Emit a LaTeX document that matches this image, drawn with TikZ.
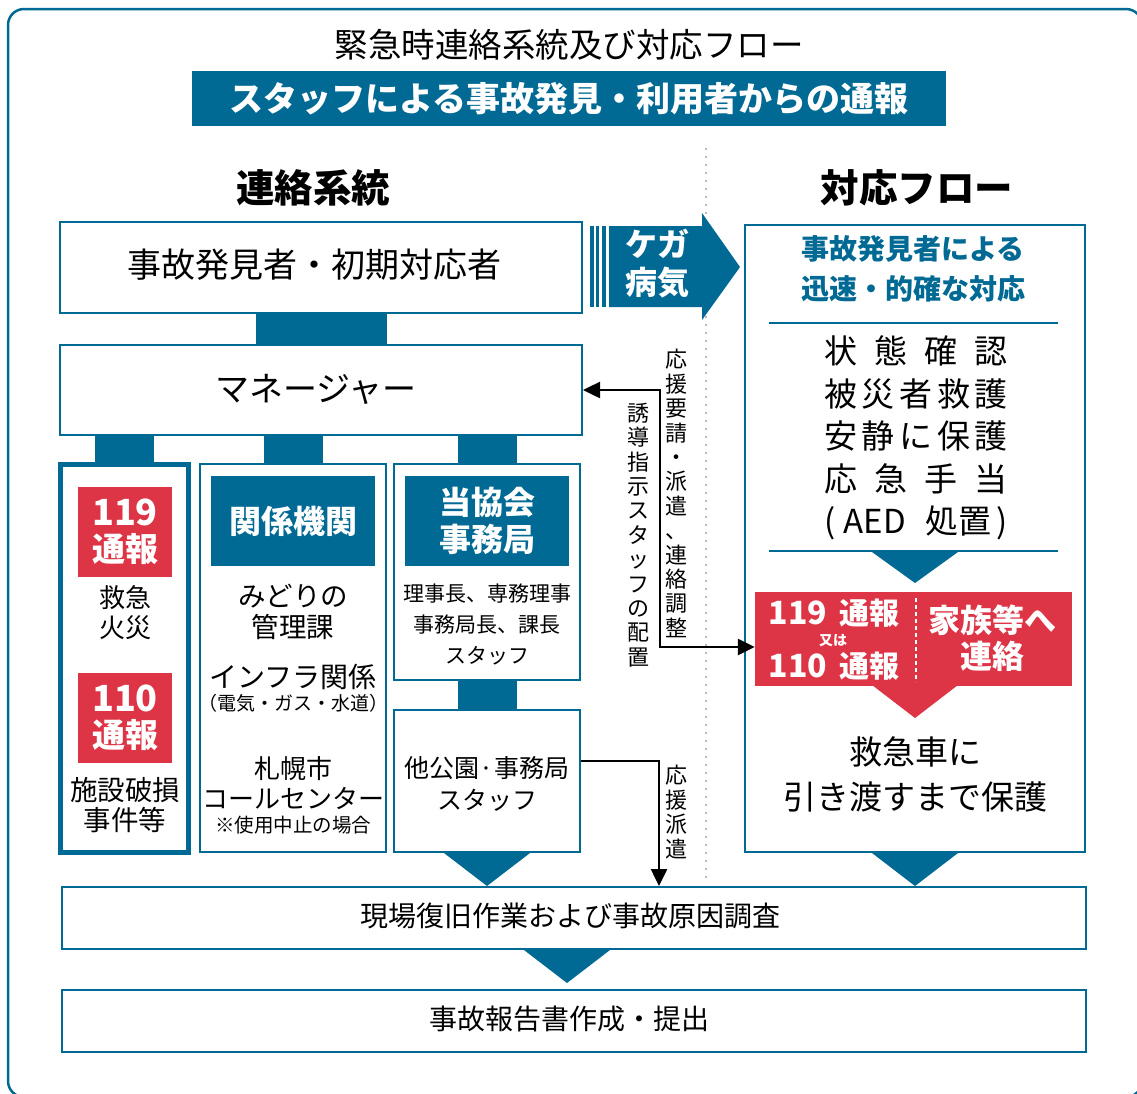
\documentclass[tikz,border=0pt]{standalone}
\usepackage{fontspec}
\setmainfont{Noto Sans CJK JP}
\usepackage{tikz}
\usetikzlibrary{calc}
\usetikzlibrary{positioning}
\usetikzlibrary{arrows.meta}

\definecolor{mainBlue}{RGB}{0,105,148}
\definecolor{mainRed}{RGB}{221,52,70}
\newcommand{\fsz}[2]{\fontsize{#1pt}{#2pt}\selectfont}

\begin{document}
\begin{tikzpicture}[x=1pt,y=-1pt,
        >={Triangle[length=17pt,width=16pt]},
        plainBox/.style 2 args = {draw=mainBlue,line width=2pt,fill=white,minimum width=#1,minimum height=#2,inner sep=0pt},
        thickBox/.style 2 args = {draw=mainBlue,line width=5pt,fill=white,minimum width=#1,minimum height=#2,inner sep=0pt},
        blueHead/.style = {fill=mainBlue,text=white,font=\bfseries\fsz{32}{37},minimum width=164pt,minimum height=90pt,align=center,inner sep=0pt},
        redTag/.style = {fill=mainRed,text=white,font=\bfseries\fsz{33}{36},minimum width=94pt,minimum height=90pt,align=center,inner sep=0pt},
        barLink/.style = {draw=mainBlue,line width=#1},
        tipArrow/.style = {line width=2.5pt},
        vLabel/.style = {font=\fsz{22}{24.4},align=center,inner sep=0pt} % stacked vertical text
        ]
    \useasboundingbox (0,0) rectangle (1137,1093);
    \clip (0,0) rectangle (1137,1093);
    \draw[mainBlue,line width=2.5pt,rounded corners=16pt] (8,9) rectangle (1142,1097);
    \draw[gray!55,line width=1.2pt,dash pattern=on 2pt off 6pt] (706,148) -- (706,880);

    \node[font=\fsz{33.5}{36}] (title) at (569,45) {緊急時連絡系統及び対応フロー};
    \node[fill=mainBlue,text=white,font=\bfseries\fsz{34}{36},minimum width=754pt,minimum height=55pt,inner sep=0pt] (banner) at (569,98.5) {スタッフによる事故発見・利用者からの通報};
    \node[font=\bfseries\fsz{38.5}{40}] (leftHead) at (313,188) {連絡系統};
    \node[font=\bfseries\fsz{38.5}{40}] (rightHead) at (917,188) {対応フロー};

    % left side
    \node[plainBox={522pt}{91pt}] (finder) at (321,267.5) {};
    \node[font=\fsz{34}{36}] (finderText) at (314,265) {事故発見者・初期対応者};
    \node[plainBox={522pt}{90pt}] (manager) at (321,390) {};
    \node[font=\fsz{34}{36}] (managerText) at (316,389) {マネージャー};
    \draw[barLink=131pt] (finder.south) -- (manager.north);

    \node[thickBox={128pt}{388pt}] (emerg) at (124.5,658) {};
    \node[plainBox={186pt}{388pt}] (agency) at (293,658) {};
    \node[plainBox={186pt}{216pt}] (office) at (487,572) {};
    \node[plainBox={186pt}{142pt}] (parks) at (487,781) {};
    \foreach \b in {emerg,agency,office}
        \draw[barLink=59pt] (\b.north) -- (\b.north |- manager.south);
    \draw[barLink=59pt] (office.south) -- (parks.north);

    \node[redTag] (tag119) at (125,532) {\fsz{36}{36}119\\通報};
    \node[font=\fsz{26}{30},align=center] (fire) at (125,613) {救急\\火災};
    \node[redTag] (tag110) at (125,718) {\fsz{36}{36}110\\通報};
    \node[font=\fsz{27.5}{30},align=center] (crime) at (125,805) {施設破損\\事件等};

    \node[blueHead] (agencyHead) at (293,521) {関係機関};
    \node[font=\fsz{27.5}{31},align=center] (midori) at (293,612) {みどりの\\管理課};
    \node[font=\fsz{28}{30}] (infra) at (293,677) {インフラ関係};
    \node[font=\fsz{19}{20}] (infraSub) at (293,703) {（電気・ガス・水道）};
    \node[font=\fsz{26}{30},align=center] (callCtr) at (293,783) {札幌市\\コールセンター};
    \node[font=\fsz{19.5}{20}] (callNote) at (293,825) {※使用中止の場合};

    \node[blueHead] (officeHead) at (487,521) {当協会\\事務局};
    \node[font=\fsz{21}{31},align=center] (staffList) at (487,624) {理事長、専務理事\\事務局長、課長\\スタッフ};
    \node[font=\fsz{25}{32},align=center] (parkStaff) at (487,784) {他公園·事務局\\スタッフ};

    % right side
    \node[plainBox={340pt}{627pt}] (flow) at (915,538.5) {};
    \node[font=\bfseries\fsz{28}{40},text=mainBlue,align=center] (flowHead) at (913,269) {事故発見者による\\迅速・的確な対応};
    \draw[mainBlue,line width=1.2pt] (769,323) -- (1058,323);
    \node[font=\fsz{33}{42.5},align=center] (care) at (916,438) {%
        \makebox[184pt][s]{状\hfill 態\hfill 確\hfill 認}\\
        \makebox[184pt][s]{被\hfill 災\hfill 者\hfill 救\hfill 護}\\
        \makebox[184pt][s]{安\hfill 静\hfill に\hfill 保\hfill 護}\\
        \makebox[184pt][s]{応\hfill 急\hfill 手\hfill 当}\\
        \makebox[184pt][s]{(\hspace{5pt plus 1fil}AED\hspace{12pt plus 2fil}処置\hspace{2pt plus 1fil})}};
    \draw[mainBlue,line width=1.2pt] (769,551) -- (1058,551);
    \fill[mainBlue] (872,552) -- (958,552) -- (915,583) -- cycle;
    \node[fill=mainRed,minimum width=317pt,minimum height=94pt,inner sep=0pt] (callRed) at (913.5,639) {};
    \fill[mainRed] (872,685) -- (958,685) -- (915,718) -- cycle;
    \node[font=\bfseries\fsz{30}{32},text=white] (call119) at (834,613) {\fsz{32}{32}119\hspace{12pt}\fsz{30}{32}通報};
    \node[font=\bfseries\fsz{14}{16},text=white] (callOr) at (833,641) {又は};
    \node[font=\bfseries\fsz{30}{32},text=white] (call110) at (834,666) {\fsz{32}{32}110\hspace{12pt}\fsz{30}{32}通報};
    \draw[white,line width=2pt,dash pattern=on 4pt off 3pt] (916,598) -- (916,682);
    \node[font=\bfseries\fsz{32}{36},text=white,align=center] (family) at (992,638) {家族等へ\\連絡};
    \node[font=\fsz{33}{45},align=center] (handover) at (915,774.5) {救急車に\\引き渡すまで保護};

    % injury arrow
    \fill[mainBlue] (609,226) -- (702,226) -- (702,213) -- (740,267) -- (702,320) -- (702,307) -- (609,307) -- cycle;
    \foreach \xa/\xb in {590/593.5,596/599,602/606}
        \fill[mainBlue] (\xa,226) rectangle (\xb,307);
    \node[font=\bfseries\fsz{32}{38},text=white,align=center] (injury) at (657,264) {ケガ\\病気};

    % bottom
    \node[plainBox={1024pt}{62pt}] (restore) at (574,918) {};
    \node[font=\fsz{28}{30}] (restoreText) at (570,916) {現場復旧作業および事故原因調査};
    \node[plainBox={1024pt}{62pt}] (report) at (574,1021) {};
    \node[font=\fsz{28}{30}] (reportText) at (569,1019) {事故報告書作成・提出};
    \fill[mainBlue] ($(parks.south)+(-43,0)$) -- ($(parks.south)+(43,0)$) -- (parks.south |- restore.north) -- cycle;
    \fill[mainBlue] ($(flow.south)+(-43,0)$) -- ($(flow.south)+(43,0)$) -- (flow.south |- restore.north) -- cycle;
    \fill[mainBlue] ($(restore.south)+(-50,0)$) -- ($(restore.south)+(36,0)$) -- ($(restore.south)+(-7,33)$) -- cycle;

    % connectors
    \draw[tipArrow,<->] (manager.east) -- ++(77,0) |- ($(callRed.west)+(0,8)$);
    \draw[tipArrow,->] ($(parks.east)+(0,-20)$) -| ($(restore.north west)+(598,0)$);
    \node[vLabel] (askLabel) at (676,493.5) {応\\援\\要\\請\\・\\派\\遣\\、\\連\\絡\\調\\整};
    \node[vLabel] (guideLabel) at (638,535) {誘\\導\\指\\示\\ス\\タ\\ッ\\フ\\の\\配\\置};
    \node[vLabel] (sendLabel) at (676,812) {応\\援\\派\\遣};
\end{tikzpicture}
\end{document}
